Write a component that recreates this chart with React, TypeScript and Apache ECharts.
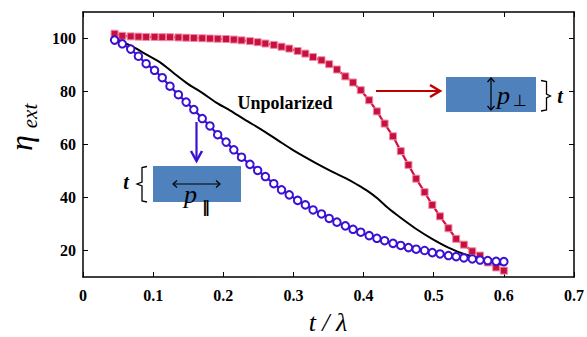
import React, { useEffect, useRef } from "react";
import * as echarts from "echarts";

// t / lambda sample positions of the two polarised curves
const xs = [
  0.045, 0.056, 0.068, 0.079, 0.09, 0.102, 0.113, 0.124, 0.136, 0.147,
  0.158, 0.17, 0.181, 0.192, 0.204, 0.215, 0.226, 0.238, 0.249, 0.26,
  0.272, 0.283, 0.294, 0.306, 0.317, 0.328, 0.34, 0.351, 0.362, 0.374,
  0.385, 0.396, 0.408, 0.419, 0.43, 0.442, 0.453, 0.464, 0.475, 0.487,
  0.498, 0.509, 0.521, 0.532, 0.543, 0.555, 0.566, 0.577, 0.589, 0.6,
];

// perpendicular polarisation (red squares)
const perpVals = [
  101.8, 101.0, 100.8, 100.7, 100.6, 100.6, 100.5, 100.5, 100.4, 100.3,
  100.2, 100.1, 100.0, 99.9, 99.8, 99.6, 99.3, 99.0, 98.6, 98.1,
  97.6, 96.9, 96.2, 95.3, 94.3, 93.0, 91.8, 90.3, 88.3, 85.7,
  83.4, 80.5, 76.7, 72.5, 67.9, 63.1, 57.5, 52.3, 47.1, 42.0,
  37.2, 32.9, 28.4, 24.4, 22.2, 19.7, 18.1, 15.5, 13.6, 12.4,
];

// parallel polarisation (blue circles)
const parVals = [
  99.4, 98.0, 96.0, 93.3, 90.5, 88.0, 85.2, 82.0, 78.8, 76.0,
  73.2, 69.8, 67.0, 63.7, 60.9, 58.0, 55.2, 52.5, 50.2, 47.9,
  45.2, 42.9, 41.0, 38.9, 37.2, 35.3, 33.8, 32.1, 30.7, 29.3,
  28.0, 26.9, 25.6, 24.6, 23.7, 22.7, 21.9, 21.1, 20.5, 20.0,
  19.2, 18.7, 18.1, 17.7, 17.2, 16.8, 16.4, 16.2, 15.9, 15.8,
];

// unpolarised (black line)
const unpolX = [
  0.045, 0.07, 0.09, 0.11, 0.13, 0.15, 0.17, 0.19, 0.21, 0.23,
  0.26, 0.28, 0.3, 0.33, 0.355, 0.375, 0.39, 0.405, 0.42, 0.435,
  0.45, 0.474, 0.497, 0.521, 0.545, 0.568, 0.585, 0.597,
];
const unpolVals = [
  100.0, 97.0, 94.0, 91.0, 86.8, 82.8, 79.5, 75.8, 72.8, 69.5,
  64.7, 61.2, 57.8, 53.3, 49.8, 47.2, 45.0, 42.6, 39.6, 36.0,
  32.9, 28.3, 24.5, 21.1, 18.5, 16.9, 15.7, 14.6,
];

const yTicks = [20, 40, 60, 80, 100];

const RED = "#d21044";
const BLUE = "#3a10d2";
const BOX = "#4f81bd";
const SERIF = "Liberation Serif";
const SANS = "DejaVu Sans";

function zip(x: number[], y: number[]) {
  return x.map((v, i) => [v, y[i]]);
}

function txt(
  x: number,
  y: number,
  text: string,
  size: number,
  opts: { italic?: boolean; bold?: boolean; family?: string; align?: string; rotation?: number; fill?: string } = {}
) {
  return {
    type: "text",
    x,
    y,
    rotation: opts.rotation || 0,
    style: {
      text,
      fontFamily: opts.family || SERIF,
      fontSize: size,
      fontStyle: opts.italic ? "italic" : "normal",
      fontWeight: opts.bold ? "bold" : "normal",
      fill: opts.fill || "#000",
      align: opts.align || "center",
      verticalAlign: "middle",
    },
  };
}

export default function App() {
  const ref = useRef<HTMLDivElement>(null);
  useEffect(() => {
    if (!ref.current) return;
    const chart = echarts.init(ref.current, null, { renderer: "svg" });
    const axisLineStyle = { color: "#000", width: 1.5 };
    const tickStyle = { color: "#000", width: 1 };
    const labelStyle = {
      color: "#000",
      fontFamily: SERIF,
      fontWeight: "bold" as const,
      fontSize: 16,
    };
    chart.setOption({
      animation: false,
      backgroundColor: "#fff",
      grid: { left: 83, right: 11, top: 12, bottom: 60 },
      xAxis: [
        {
          type: "value",
          min: 0,
          max: 0.7,
          interval: 0.1,
          position: "bottom",
          axisLine: { show: true, onZero: false, lineStyle: axisLineStyle },
          axisTick: { show: true, inside: true, length: 5, lineStyle: tickStyle },
          axisLabel: {
            ...labelStyle,
            margin: 10,
            formatter: (v: number) => (v === 0 ? "0" : v.toFixed(1)),
          },
          splitLine: { show: false },
        },
        {
          type: "value",
          min: 0,
          max: 0.7,
          interval: 0.1,
          position: "top",
          axisLine: { show: true, onZero: false, lineStyle: axisLineStyle },
          axisTick: { show: true, inside: true, length: 5, lineStyle: tickStyle },
          axisLabel: { show: false },
          splitLine: { show: false },
        },
      ],
      yAxis: [
        {
          type: "value",
          min: 10,
          max: 110,
          position: "left",
          axisLine: { show: true, onZero: false, lineStyle: axisLineStyle },
          axisTick: { show: true, inside: true, length: 5, customValues: yTicks, lineStyle: tickStyle },
          axisLabel: { ...labelStyle, margin: 7, customValues: yTicks },
          splitLine: { show: false },
        },
        {
          type: "value",
          min: 10,
          max: 110,
          position: "right",
          axisLine: { show: true, onZero: false, lineStyle: axisLineStyle },
          axisTick: { show: true, inside: true, length: 5, customValues: yTicks, lineStyle: tickStyle },
          axisLabel: { show: false },
          splitLine: { show: false },
        },
      ],
      series: [
        {
          type: "line",
          name: "perp",
          data: zip(xs, perpVals),
          symbol: "rect",
          symbolSize: 7,
          lineStyle: { color: RED, width: 2.2 },
          itemStyle: { color: "#c8103e", borderColor: "#ef8ca8", borderWidth: 1 },
          z: 2,
        },
        {
          type: "line",
          name: "Unpolarized",
          data: zip(unpolX, unpolVals),
          symbol: "none",
          smooth: 0.3,
          lineStyle: { color: "#000", width: 2 },
          z: 3,
        },
        {
          type: "line",
          name: "par",
          data: zip(xs, parVals),
          symbol: "emptyCircle",
          symbolSize: 7.5,
          lineStyle: { color: BLUE, width: 2.2 },
          itemStyle: { color: BLUE, borderWidth: 2.6 },
          z: 4,
        },
      ],
      graphic: [
        // y-axis title
        txt(21, 143, "η", 32, { italic: true, rotation: Math.PI / 2 }),
        txt(30, 116, "ext", 21, { italic: true, rotation: Math.PI / 2 }),
        // x-axis title
        txt(328, 322, "t / λ", 26, { italic: true }),
        // Unpolarized label
        txt(285, 103, "Unpolarized", 18, { bold: true }),
        // red arrow
        {
          type: "line",
          shape: { x1: 376, y1: 91, x2: 438, y2: 91 },
          style: { stroke: "#c00000", lineWidth: 2.2 },
        },
        {
          type: "polyline",
          shape: { points: [[430, 85], [440, 91], [430, 97]] },
          style: { stroke: "#c00000", lineWidth: 2.5, fill: null },
        },
        // right box
        {
          type: "rect",
          shape: { x: 446, y: 77, width: 90, height: 35 },
          style: { fill: BOX },
        },
        {
          type: "line",
          shape: { x1: 491, y1: 78, x2: 491, y2: 110 },
          style: { stroke: "#000", lineWidth: 1.2 },
        },
        {
          type: "polyline",
          shape: { points: [[487.5, 82], [491, 78], [494.5, 82]] },
          style: { stroke: "#000", lineWidth: 1.2, fill: null },
        },
        {
          type: "polyline",
          shape: { points: [[487.5, 106], [491, 110], [494.5, 106]] },
          style: { stroke: "#000", lineWidth: 1.2, fill: null },
        },
        txt(497, 95, "p", 26, { italic: true, align: "left" }),
        txt(520, 100, "⊥", 16, { family: SANS }),
        {
          type: "polyline",
          shape: {
            points: [[541, 80.5], [546.5, 81.5], [546.5, 94], [550.5, 96], [546.5, 98], [546.5, 110], [541, 111]],
          },
          style: { stroke: "#000", lineWidth: 1.3, fill: null },
        },
        txt(560, 96, "t", 20, { italic: true, bold: true }),
        // blue arrow
        {
          type: "line",
          shape: { x1: 196.5, y1: 122, x2: 196.5, y2: 159 },
          style: { stroke: BLUE, lineWidth: 2.2 },
        },
        {
          type: "polyline",
          shape: { points: [[191, 151], [196.5, 161], [202, 151]] },
          style: { stroke: BLUE, lineWidth: 2.5, fill: null },
        },
        // left box
        {
          type: "rect",
          shape: { x: 153, y: 166, width: 88, height: 36 },
          style: { fill: BOX },
        },
        {
          type: "line",
          shape: { x1: 173, y1: 184, x2: 220, y2: 184 },
          style: { stroke: "#000", lineWidth: 1.2 },
        },
        {
          type: "polyline",
          shape: { points: [[177, 180.5], [173, 184], [177, 187.5]] },
          style: { stroke: "#000", lineWidth: 1.2, fill: null },
        },
        {
          type: "polyline",
          shape: { points: [[216, 180.5], [220, 184], [216, 187.5]] },
          style: { stroke: "#000", lineWidth: 1.2, fill: null },
        },
        txt(184, 194, "p", 26, { italic: true, align: "left" }),
        txt(206, 206, "‖", 16, { bold: true, family: SANS }),
        {
          type: "polyline",
          shape: {
            points: [[147, 166.5], [142, 167.5], [142, 182], [137, 184], [142, 186], [142, 201], [147, 202]],
          },
          style: { stroke: "#000", lineWidth: 1.3, fill: null },
        },
        txt(126, 182, "t", 20, { italic: true, bold: true }),
      ],
    });
    return () => chart.dispose();
  }, []);
  return (
    <div
      ref={ref}
      style={{ position: "fixed", left: 0, top: 0, width: 587, height: 337, background: "#fff" }}
    />
  );
}
